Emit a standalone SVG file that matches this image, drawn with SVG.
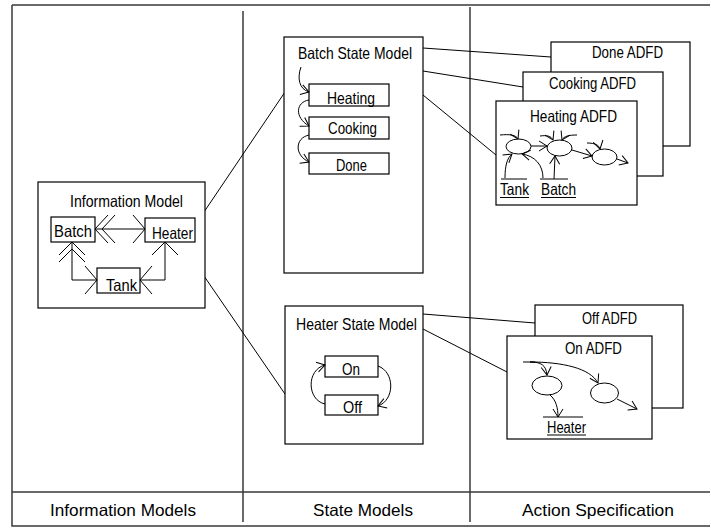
<svg xmlns="http://www.w3.org/2000/svg" width="711" height="529" viewBox="0 0 711 529">
<defs>
<style>
.t{font-family:"Liberation Sans",Arial,sans-serif;font-size:16.5px;fill:#000}
.b{fill:#fff;stroke:#000;stroke-width:1.2}
.l{fill:none;stroke:#000;stroke-width:1}
.f{fill:none;stroke:#3a3a3a;stroke-width:1.5}
</style>
<marker id="ah" markerUnits="userSpaceOnUse" markerWidth="12" markerHeight="12" refX="9" refY="5" orient="auto" viewBox="0 0 12 10">
<path d="M1,0 L9,5 L1,10" fill="none" stroke="#000" stroke-width="1"/>
</marker>
</defs>
<rect width="711" height="529" fill="#fff"/>

<g id="frame">
<path class="f" d="M12,5 H710 M12,5 V526 H710 M243,11 V522 M470,7 V522 M12,492 H710"/>
<text class="t" x="50" y="516" textLength="146" lengthAdjust="spacingAndGlyphs">Information Models</text>
<text class="t" x="313" y="516" textLength="100" lengthAdjust="spacingAndGlyphs">State Models</text>
<text class="t" x="522" y="516" textLength="152" lengthAdjust="spacingAndGlyphs">Action Specification</text>
</g>

<g id="connectors">
<path class="l" d="M204,212 L285,92"/>
<path class="l" d="M204,276 L285,394"/>
<path class="l" d="M423,48 L551,57"/>
<path class="l" d="M423,71 L523,87"/>
<path class="l" d="M423,95 L496,155"/>
<path class="l" d="M423,314 L535,323"/>
<path class="l" d="M423,329 L507,372"/>
</g>

<g id="information-model">
<rect class="b" x="38" y="182" width="167" height="126"/>
<text class="t" x="70" y="207" textLength="113" lengthAdjust="spacingAndGlyphs">Information Model</text>
<rect class="b" x="51" y="217" width="44" height="25"/>
<text class="t" x="54" y="237" textLength="38" lengthAdjust="spacingAndGlyphs">Batch</text>
<rect class="b" x="145" y="218" width="50" height="24"/>
<text class="t" x="152" y="239" textLength="41" lengthAdjust="spacingAndGlyphs">Heater</text>
<rect class="b" x="97" y="268" width="43" height="25"/>
<text class="t" x="106" y="291" textLength="31" lengthAdjust="spacingAndGlyphs">Tank</text>
<path class="l" d="M95,229 H145 M108,215 L95,229 L108,243 M115,215 L102,229 L115,243 M133,215 L145,229 L133,243"/>
<path class="l" d="M72,242 V280 H97 M59,255 L72,242 L85,255 M59,262 L72,249 L85,262 M85,266 L97,280 L85,294"/>
<path class="l" d="M140,280 H165 V242 M152,266 L140,280 L152,294 M152,255 L165,242 L178,255"/>
</g>

<g id="batch-state-model">
<rect class="b" x="284" y="37" width="139" height="236"/>
<text class="t" x="298" y="59" textLength="114" lengthAdjust="spacingAndGlyphs">Batch State Model</text>
<rect class="b" x="309" y="84" width="80" height="22"/>
<text class="t" x="327" y="104" textLength="48" lengthAdjust="spacingAndGlyphs">Heating</text>
<rect class="b" x="309" y="117" width="80" height="22"/>
<text class="t" x="328" y="134" textLength="49" lengthAdjust="spacingAndGlyphs">Cooking</text>
<rect class="b" x="309" y="153" width="80" height="21"/>
<text class="t" x="336" y="171" textLength="31" lengthAdjust="spacingAndGlyphs">Done</text>
<path class="l" marker-end="url(#ah)" d="M301,67 C297,78 299,89 309,92"/>
<path class="l" marker-end="url(#ah)" d="M309,100 C296,102 294,117 309,126"/>
<path class="l" marker-end="url(#ah)" d="M309,135 C295,138 294,155 309,162"/>
</g>

<g id="heater-state-model">
<rect class="b" x="285" y="306" width="138" height="138"/>
<text class="t" x="296" y="330" textLength="121" lengthAdjust="spacingAndGlyphs">Heater State Model</text>
<rect class="b" x="325" y="356" width="53" height="21"/>
<text class="t" x="342" y="375" textLength="18" lengthAdjust="spacingAndGlyphs">On</text>
<rect class="b" x="325" y="395" width="53" height="20"/>
<text class="t" x="343" y="413" textLength="19" lengthAdjust="spacingAndGlyphs">Off</text>
<path class="l" marker-end="url(#ah)" d="M325,404 C307,400 306,370 325,365"/>
<path class="l" marker-end="url(#ah)" d="M378,366 C395,372 395,400 378,406"/>
</g>

<g id="done-adfd">
<rect class="b" x="551" y="42" width="139" height="104"/>
<text class="t" x="592" y="58" textLength="71" lengthAdjust="spacingAndGlyphs">Done ADFD</text>
</g>
<g id="cooking-adfd">
<rect class="b" x="523" y="72" width="140" height="104"/>
<text class="t" x="549" y="89" textLength="87" lengthAdjust="spacingAndGlyphs">Cooking ADFD</text>
</g>
<g id="heating-adfd">
<rect class="b" x="496" y="101" width="141" height="104"/>
<text class="t" x="530" y="122" textLength="87" lengthAdjust="spacingAndGlyphs">Heating ADFD</text>
<ellipse class="l" cx="518.5" cy="146.5" rx="12.5" ry="7.5"/>
<ellipse class="l" cx="559.5" cy="148" rx="12.5" ry="8"/>
<ellipse class="l" cx="604.5" cy="157" rx="12.5" ry="8"/>
<path class="l" marker-end="url(#ah)" d="M531,146 L547,146"/>
<path class="l" marker-end="url(#ah)" d="M572,150 L592,156"/>
<path class="l" marker-end="url(#ah)" d="M617,159 L628,163"/>
<path class="l" marker-end="url(#ah)" d="M500,135 C510,134 516,135 518,139"/>
<path class="l" marker-end="url(#ah)" d="M540,136 C547,135 551,136 553,140"/>
<path class="l" marker-end="url(#ah)" d="M577,135 C569,135 564,136 562,140"/>
<path class="l" marker-end="url(#ah)" d="M587,143 C595,143 599,145 600,149"/>
<path class="l" d="M501,179 H527 M540,179 H568"/>
<path class="l" marker-end="url(#ah)" d="M505,178 C505,166 507,158 512,154"/>
<path class="l" marker-end="url(#ah)" d="M543,178 C543,165 535,156 522,154"/>
<path class="l" marker-end="url(#ah)" d="M554,179 L555,156"/>
<text class="t" x="500" y="195" textLength="29" lengthAdjust="spacingAndGlyphs">Tank</text>
<text class="t" x="541" y="195" textLength="35" lengthAdjust="spacingAndGlyphs">Batch</text>
<path class="l" d="M500,197.5 H529 M541,197.5 H576"/>
</g>

<g id="off-adfd">
<rect class="b" x="535" y="305" width="148" height="103"/>
<text class="t" x="582" y="324" textLength="55" lengthAdjust="spacingAndGlyphs">Off ADFD</text>
</g>
<g id="on-adfd">
<rect class="b" x="507" y="336" width="145" height="103"/>
<text class="t" x="565" y="354" textLength="57" lengthAdjust="spacingAndGlyphs">On ADFD</text>
<ellipse class="l" cx="547" cy="385.5" rx="15" ry="9.5"/>
<ellipse class="l" cx="604.5" cy="393" rx="14" ry="10"/>
<path class="l" d="M523,362 H535"/>
<path class="l" marker-end="url(#ah)" d="M530,362 C541,362 546,365 547,375"/>
<path class="l" marker-end="url(#ah)" d="M530,362 C562,362 590,368 598,383"/>
<path class="l" marker-end="url(#ah)" d="M550,395 C556,400 558,408 558,417"/>
<path class="l" marker-end="url(#ah)" d="M617,399 L637,409"/>
<path class="l" d="M543,417 H583"/>
<text class="t" x="547" y="433" textLength="39" lengthAdjust="spacingAndGlyphs">Heater</text>
<path class="l" d="M547,435 H586"/>
</g>
</svg>
